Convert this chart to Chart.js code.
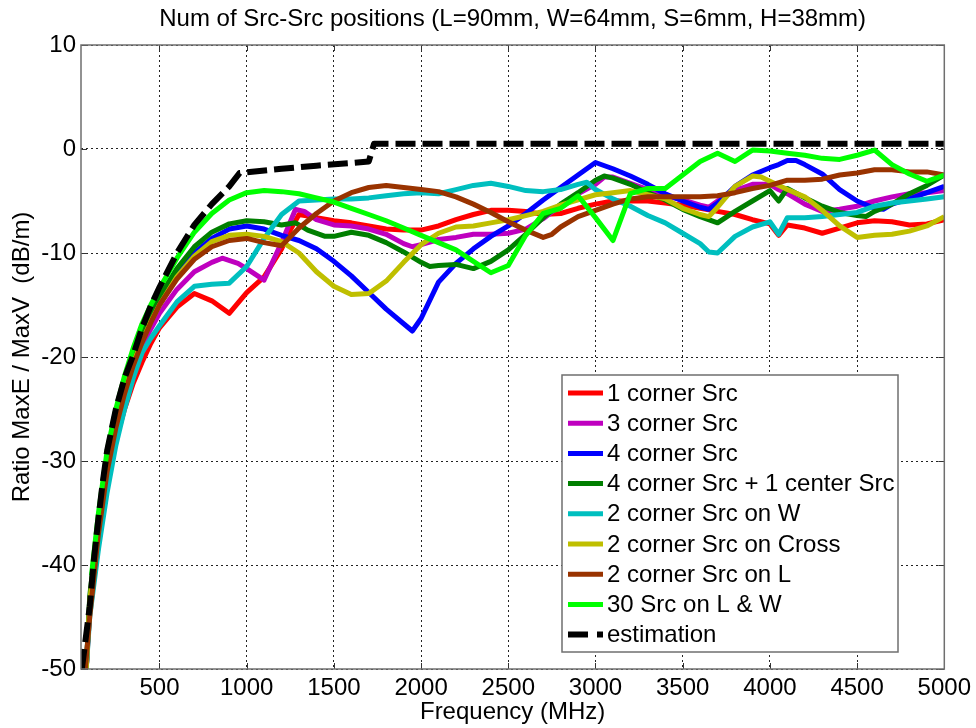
<!DOCTYPE html>
<html><head><meta charset="utf-8">
<script src="https://cdn.jsdelivr.net/npm/chart.js@4.4.1/dist/chart.umd.min.js"></script>
<style>html,body{margin:0;padding:0;background:#fff;}</style>
</head><body>
<canvas id="c" width="976" height="728" style="width:976px;height:728px;display:block"></canvas>
<script>
const chartTitle = "Num of Src-Src positions (L=90mm, W=64mm, S=6mm, H=38mm)";
const xLabel = "Frequency (MHz)";
const yLabel = "Ratio MaxE / MaxV  (dB/m)";
const xTicks = [500,1000,1500,2000,2500,3000,3500,4000,4500,5000];
const yTicks = [-50,-40,-30,-20,-10,0,10];
const seriesNames = ["1 corner Src","3 corner Src","4 corner Src","4 corner Src + 1 center Src","2 corner Src on W","2 corner Src on Cross","2 corner Src on L","30 Src on L & W","estimation"];

const redF = [80,100,150,200,250,300,350,400,450,500,600,700,800,900,1000,1100,1200,1250,1300,1400,1500,1600,1700,1800,1900,2000,2100,2200,2300,2400,2500,2600,2700,2800,2900,3000,3100,3200,3300,3400,3500,3600,3700,3800,3900,4000,4050,4100,4200,4300,4400,4500,4600,4700,4800,4900,5000];
const redV = [-50,-44.5,-38,-32,-28,-25,-22.5,-20.5,-18.7,-17.2,-15.2,-13.9,-14.6,-15.8,-13.8,-12.3,-9.6,-7.8,-6.3,-6.6,-6.9,-7.1,-7.4,-7.7,-7.8,-7.8,-7.4,-6.8,-6.3,-5.9,-5.9,-6.0,-6.3,-6.2,-5.7,-5.3,-5.0,-5.0,-5.0,-5.2,-5.4,-5.7,-6.0,-6.3,-6.8,-7.2,-8.3,-7.3,-7.6,-8.1,-7.6,-7.1,-6.9,-7.0,-7.3,-7.2,-6.8];

const magF = [80,100,150,200,250,300,350,400,450,500,600,700,800,860,950,1000,1100,1200,1280,1330,1400,1500,1600,1700,1800,1900,1950,2000,2100,2200,2300,2400,2500,2600,2700,2800,2900,3000,3050,3100,3200,3300,3400,3500,3600,3650,3700,3800,3900,4000,4050,4100,4200,4300,4400,4500,4600,4700,4800,4900,5000];
const magV = [-50,-44,-37,-31,-27,-24,-21.3,-19,-17.3,-15.8,-13.5,-11.8,-10.9,-10.5,-11.0,-11.5,-12.6,-9.0,-5.8,-6.0,-6.8,-7.3,-7.4,-7.7,-8.2,-9.1,-9.4,-9.2,-8.7,-8.5,-8.2,-8.2,-8.1,-7.7,-6.7,-5.4,-4.3,-3.4,-2.7,-2.7,-3.3,-3.9,-4.5,-4.9,-5.4,-5.6,-5.0,-4.0,-3.4,-3.4,-3.9,-4.3,-5.3,-6.0,-5.8,-5.5,-5.0,-4.6,-4.3,-4.2,-4.0];

const blueF = [80,100,150,200,250,300,350,400,450,500,600,700,800,900,1000,1100,1200,1300,1400,1500,1600,1700,1800,1900,1950,2000,2100,2200,2300,2400,2500,2600,2700,2800,2900,3000,3100,3200,3300,3400,3500,3600,3650,3700,3800,3900,4000,4050,4100,4150,4200,4300,4400,4500,4600,4650,4700,4800,4900,5000];
const blueV = [-50,-43.5,-36,-30.5,-26.3,-23,-20.4,-18.3,-16.4,-14.8,-12.0,-10.0,-8.6,-7.7,-7.4,-7.7,-8.3,-8.8,-9.6,-10.8,-12.2,-13.8,-15.4,-16.8,-17.5,-16.3,-12.8,-11.0,-9.6,-8.4,-7.4,-6.2,-4.9,-3.7,-2.5,-1.3,-1.9,-2.6,-3.4,-4.3,-5.0,-5.6,-5.8,-5.2,-3.6,-2.5,-1.8,-1.5,-1.1,-1.1,-1.5,-2.4,-3.9,-5.0,-5.7,-5.8,-5.3,-4.8,-4.2,-3.6];

const dgreenF = [80,100,150,200,250,300,350,400,450,500,600,700,800,900,1000,1100,1200,1280,1350,1450,1500,1600,1700,1800,1900,2000,2050,2100,2200,2300,2400,2500,2600,2700,2800,2900,3000,3050,3100,3200,3300,3400,3500,3600,3700,3800,3900,4000,4050,4100,4200,4300,4400,4500,4550,4600,4700,4800,4900,5000];
const dgreenV = [-50,-43,-35.5,-30,-25.8,-22.5,-19.9,-17.8,-15.9,-14.2,-11.5,-9.4,-8.0,-7.2,-6.9,-7.0,-7.3,-7.1,-7.8,-8.4,-8.4,-8.0,-8.3,-9.0,-9.9,-10.9,-11.3,-11.2,-11.1,-11.5,-10.8,-9.7,-8.2,-6.6,-5.3,-4.2,-3.0,-2.6,-2.8,-3.4,-4.2,-4.9,-5.8,-6.5,-7.1,-6.0,-5.0,-4.0,-5.0,-3.8,-4.7,-5.5,-6.1,-6.4,-6.5,-6.0,-5.3,-4.3,-3.5,-2.5];

const cyanF = [80,100,150,200,250,300,350,400,450,500,600,700,800,900,1000,1100,1200,1300,1400,1500,1600,1700,1800,1900,2000,2100,2200,2300,2400,2500,2600,2700,2800,2900,2950,3000,3100,3200,3300,3400,3500,3600,3650,3700,3800,3900,4000,4050,4100,4200,4300,4400,4500,4600,4700,4800,4900,5000];
const cyanV = [-50,-45,-38.5,-33,-28.5,-25,-22,-19.6,-18.2,-17.0,-14.7,-13.2,-13.0,-12.9,-11.3,-8.6,-6.3,-5.0,-4.9,-4.8,-4.8,-4.7,-4.5,-4.3,-4.2,-4.3,-3.9,-3.5,-3.3,-3.6,-4.0,-4.1,-3.9,-3.4,-3.2,-3.9,-4.8,-5.5,-6.4,-7.1,-8.1,-9.1,-9.9,-10.0,-8.4,-7.5,-7.0,-8.2,-6.6,-6.6,-6.5,-6.3,-6.1,-5.5,-5.2,-5.0,-4.8,-4.6];

const oliveF = [80,100,150,200,250,300,350,400,450,500,600,700,800,900,1000,1100,1200,1300,1400,1500,1600,1700,1800,1900,2000,2100,2200,2300,2400,2500,2600,2700,2800,2900,3000,3100,3200,3300,3400,3500,3600,3650,3700,3800,3900,3950,4000,4100,4200,4300,4400,4500,4600,4700,4800,4900,5000];
const oliveV = [-50,-43.5,-36,-30.5,-26.4,-23,-20.5,-18.5,-16.6,-15.0,-12.3,-10.3,-8.9,-8.3,-8.2,-8.4,-8.9,-10.0,-11.8,-13.2,-14.0,-13.9,-12.7,-10.9,-9.2,-8.1,-7.5,-7.4,-7.1,-6.8,-6.4,-6.0,-5.4,-4.9,-4.4,-4.2,-4.0,-4.4,-4.8,-5.7,-6.3,-6.5,-5.6,-3.6,-2.6,-2.7,-3.1,-3.9,-4.6,-5.9,-7.4,-8.5,-8.3,-8.2,-7.9,-7.4,-6.5];

const brownF = [75,100,150,200,250,300,350,400,450,500,600,700,800,900,1000,1100,1200,1300,1400,1500,1600,1700,1800,1900,2000,2100,2200,2300,2400,2500,2600,2700,2750,2800,2900,3000,3100,3200,3300,3400,3500,3600,3700,3800,3900,4000,4100,4200,4300,4400,4500,4600,4700,4800,4900,5000];
const brownV = [-50,-45,-37,-31,-26.8,-23.5,-20.8,-18.6,-16.7,-15.0,-12.5,-10.6,-9.4,-8.8,-8.6,-9.0,-9.3,-7.6,-6.2,-5.0,-4.2,-3.7,-3.5,-3.7,-3.9,-4.1,-4.6,-5.3,-6.1,-7.0,-7.8,-8.5,-8.2,-7.5,-6.5,-5.9,-5.3,-4.8,-4.6,-4.6,-4.6,-4.6,-4.5,-4.2,-3.8,-3.5,-3.0,-3.0,-2.9,-2.5,-2.3,-2.0,-2.0,-2.2,-2.2,-2.5];

const limeF = [110,150,200,250,300,350,400,450,500,600,700,800,900,1000,1100,1200,1300,1400,1500,1600,1700,1800,1900,2000,2100,2200,2300,2400,2500,2600,2700,2800,2900,3000,3100,3200,3300,3400,3500,3600,3700,3800,3900,4000,4100,4200,4300,4400,4500,4600,4700,4800,4900,5000];
const limeV = [-41,-35,-29,-25,-21.8,-19.1,-16.8,-15.0,-13.4,-10.5,-8.0,-6.2,-4.9,-4.2,-4.0,-4.1,-4.3,-4.7,-5.1,-5.7,-6.3,-6.9,-7.6,-8.3,-9.0,-9.7,-10.8,-11.9,-11.2,-8.3,-6.2,-5.7,-4.5,-6.6,-8.8,-4.3,-3.8,-3.8,-2.5,-1.2,-0.4,-1.2,-0.1,-0.2,-0.4,-0.6,-0.9,-1.0,-0.6,-0.1,-1.5,-2.4,-3.1,-2.5];

const estF = [55,100,125,150,175,200,250,300,350,400,450,500,600,700,800,900,960,1200,1400,1600,1700,1730,5000];
const estV = [-50,-44,-39.3,-35.5,-32,-29,-25,-22,-19.8,-17.2,-15.1,-13.3,-10.0,-7.3,-5.3,-3.6,-2.3,-1.9,-1.6,-1.35,-1.2,0.5,0.5];

const seriesF = [redF, magF, blueF, dgreenF, cyanF, oliveF, brownF, limeF, estF];
const seriesV = [redV, magV, blueV, dgreenV, cyanV, oliveV, brownV, limeV, estV];
const seriesColors = ["#ff0000","#bf00bf","#0000ff","#007f00","#00bfbf","#bfbf00","#993300","#00ff00","#000000"];

const FONT = "'Liberation Sans', Arial, Helvetica, sans-serif";
const FS = 24;

const datasets = seriesNames.map((name, i) => {
  const isEst = i === seriesNames.length - 1;
  return {
    label: name,
    data: seriesF[i].map((f, k) => ({x: f, y: seriesV[i][k]})),
    borderColor: seriesColors[i],
    backgroundColor: seriesColors[i],
    borderWidth: isEst ? 6 : 5,
    borderDash: isEst ? [20, 7] : [],
    borderJoinStyle: 'round',
    borderCapStyle: 'butt',
    pointRadius: 0,
    tension: 0,
    fill: false,
    clip: 0,
    order: seriesNames.length - 1 - i
  };
});

const framePlugin = {
  id: 'frame',
  afterDraw(chart) {
    const ctx = chart.ctx;
    const a = chart.chartArea;
    const xs = chart.scales.x, ys = chart.scales.y;
    ctx.save();
    ctx.strokeStyle = '#333';
    ctx.lineWidth = 1;
    ctx.setLineDash([]);
    xTicks.forEach(v => {
      const px = Math.round(xs.getPixelForValue(v)) + 0.5;
      ctx.beginPath();
      ctx.moveTo(px, a.bottom); ctx.lineTo(px, a.bottom - 6);
      ctx.moveTo(px, a.top); ctx.lineTo(px, a.top + 6);
      ctx.stroke();
    });
    yTicks.forEach(v => {
      const py = Math.round(ys.getPixelForValue(v)) + 0.5;
      ctx.beginPath();
      ctx.moveTo(a.left, py); ctx.lineTo(a.left + 6, py);
      ctx.moveTo(a.right, py); ctx.lineTo(a.right - 6, py);
      ctx.stroke();
    });
    ctx.strokeStyle = '#6f6f6f';
    ctx.lineWidth = 1.5;
    ctx.strokeRect(a.left, a.top, a.right - a.left, a.bottom - a.top);
    ctx.fillStyle = '#000';
    ctx.font = FS + 'px ' + FONT;
    ctx.textAlign = 'center';
    ctx.textBaseline = 'middle';
    ctx.fillText(chartTitle, (a.left + a.right) / 2, 19);
    const lx = 562, ly = 375, lw = 336, lh = 277;
    ctx.fillStyle = '#fff';
    ctx.fillRect(lx, ly, lw, lh);
    ctx.strokeStyle = '#6f6f6f';
    ctx.lineWidth = 1.5;
    ctx.strokeRect(lx, ly, lw, lh);
    chart.data.datasets.forEach((ds, i) => {
      const cy = ly + 18 + i * 30.2;
      ctx.save();
      ctx.strokeStyle = ds.borderColor;
      ctx.lineWidth = ds.borderWidth;
      ctx.lineCap = 'butt';
      ctx.setLineDash(ds.borderDash.length ? [20, 9] : []);
      ctx.beginPath();
      ctx.moveTo(lx + 6, cy); ctx.lineTo(lx + 41, cy);
      ctx.stroke();
      ctx.restore();
      ctx.fillStyle = '#000';
      ctx.font = FS + 'px ' + FONT;
      ctx.textAlign = 'left';
      ctx.textBaseline = 'middle';
      ctx.fillText(ds.label, lx + 45, cy + 1);
    });
    ctx.restore();
  }
};

new Chart(document.getElementById('c'), {
  type: 'line',
  data: { datasets },
  options: {
    responsive: false,
    animation: false,
    devicePixelRatio: 1,
    layout: { padding: { top: 45, right: 30, left: 0, bottom: 0 } },
    plugins: { legend: { display: false }, title: { display: false }, tooltip: { enabled: false } },
    scales: {
      x: {
        type: 'linear', min: 50, max: 5000,
        afterBuildTicks: s => { s.ticks = xTicks.map(v => ({ value: v })); },
        afterFit: s => { s.height = 59; },
        ticks: { callback: v => String(v), color: '#000', font: { family: FONT, size: FS }, padding: 5, maxRotation: 0, autoSkip: false },
        grid: { color: '#222', lineWidth: 1, drawTicks: false },
        border: { display: false, dash: [2, 3] },
        title: { display: true, text: xLabel, color: '#000', font: { family: FONT, size: FS }, padding: { top: 0, bottom: 1 } }
      },
      y: {
        type: 'linear', min: -50, max: 10,
        afterBuildTicks: s => { s.ticks = yTicks.map(v => ({ value: v })); },
        afterFit: s => { s.width = 81; },
        ticks: { callback: v => String(v), color: '#000', font: { family: FONT, size: FS }, padding: 5, autoSkip: false },
        grid: { color: '#222', lineWidth: 1, drawTicks: false },
        border: { display: false, dash: [2, 3] },
        title: { display: true, text: yLabel, color: '#000', font: { family: FONT, size: FS }, padding: { top: 8, bottom: 0 } }
      }
    }
  },
  plugins: [framePlugin]
});
</script>
</body></html>
